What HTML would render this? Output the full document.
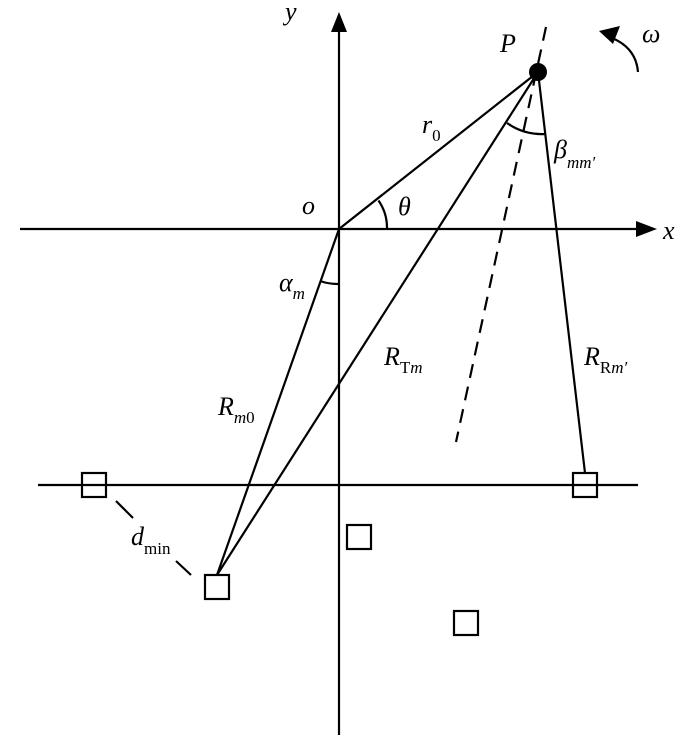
<!DOCTYPE html>
<html><head><meta charset="utf-8"><style>
html,body{margin:0;padding:0;background:#fff;}
svg text{font-family:"Liberation Serif",serif;font-style:italic;fill:#000;}
.s{font-style:normal;}
</style></head><body>
<svg width="700" height="741" viewBox="0 0 700 741" xmlns="http://www.w3.org/2000/svg">
<g stroke="#000" stroke-width="2.2" fill="none">
<line x1="339" y1="30" x2="339" y2="735"/>
<line x1="20" y1="229" x2="640" y2="229"/>
<line x1="38" y1="485" x2="638" y2="485"/>
<line x1="538" y1="72" x2="339" y2="229"/>
<line x1="538" y1="72" x2="217" y2="575"/>
<line x1="538" y1="72" x2="585" y2="473"/>
<line x1="339" y1="229" x2="217" y2="575"/>
<line x1="546" y1="27" x2="456" y2="442" stroke-dasharray="14,9"/>
<line x1="116" y1="501" x2="133" y2="518"/>
<line x1="176" y1="561" x2="191" y2="575"/>
<path d="M378.5,200.5 A48,48 0 0 1 387,229"/>
<path d="M339,284 A55,55 0 0 1 320,281"/>
<path d="M507,123 A60,60 0 0 0 545,134"/>
<path d="M638,72 Q636,48 612,38"/>
<rect x="82" y="473" width="24" height="24"/>
<rect x="573" y="473" width="24" height="24"/>
<rect x="205" y="575" width="24" height="24"/>
<rect x="347" y="525" width="24" height="24"/>
<rect x="454" y="611" width="24" height="24"/>
</g>
<polygon points="339,12 331,32 347,32" fill="#000"/>
<polygon points="657,229 636,221 636,237" fill="#000"/>
<polygon points="599,31 620,26 613,44" fill="#000"/>
<circle cx="538" cy="72" r="9" fill="#000"/>
<text x="285" y="20" font-size="26">y</text>
<text x="663" y="239" font-size="26">x</text>
<text x="302" y="214" font-size="26">o</text>
<text x="500" y="52" font-size="26">P</text>
<text x="642" y="42" font-size="26">ω</text>
<text x="398" y="215" font-size="26">θ</text>
<text x="422" y="133" font-size="26">r<tspan class="s" font-size="17" dy="8">0</tspan></text>
<text x="554" y="158" font-size="26">β<tspan font-size="17" dy="10">mm′</tspan></text>
<text x="279" y="291" font-size="26">α<tspan font-size="17" dy="8">m</tspan></text>
<text x="384" y="365" font-size="26">R<tspan font-size="17" dy="8"><tspan class="s">T</tspan>m</tspan></text>
<text x="584" y="365" font-size="26">R<tspan font-size="17" dy="8"><tspan class="s">R</tspan>m′</tspan></text>
<text x="218" y="415" font-size="26">R<tspan font-size="17" dy="8">m<tspan class="s">0</tspan></tspan></text>
<text x="131" y="545" font-size="26">d<tspan class="s" font-size="17" dy="9">min</tspan></text>
</svg>
</body></html>
